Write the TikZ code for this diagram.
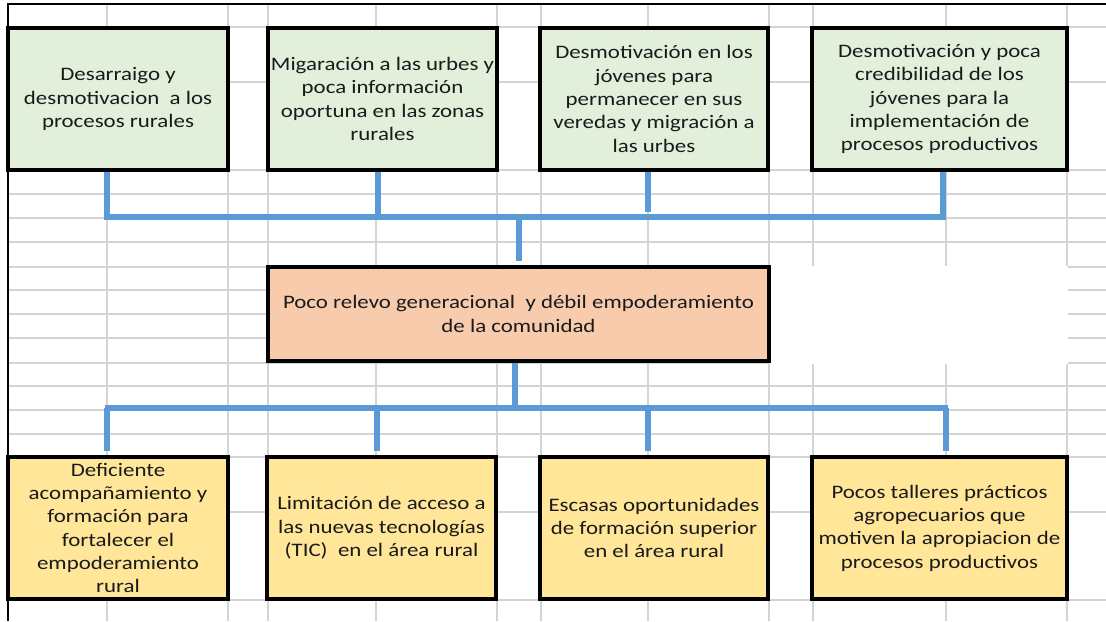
\documentclass[tikz,border=0pt]{standalone}
\usepackage{fontspec}
\setmainfont[FakeStretch=1.2]{Carlito}
\definecolor{gridgray}{HTML}{D4D4D4}
\definecolor{connblue}{HTML}{5B9BD5}
\definecolor{greenfill}{HTML}{E2EFDA}
\definecolor{orangefill}{HTML}{F8CBAD}
\definecolor{yellowfill}{HTML}{FFE699}
\definecolor{txt}{HTML}{1A1A1A}
\begin{document}
\begin{tikzpicture}[x=0.75pt,y=-0.75pt,
  gridline/.style={draw=gridgray,line width=1.1pt},
  box/.style={draw=black,line width=2.3pt,inner sep=0pt,align=center,text=txt,
    font=\fontsize{14.3}{17.5}\selectfont},
  topbox/.style={box,fill=greenfill,minimum height=106.5pt},
  midbox/.style={box,fill=orangefill,minimum height=70.5pt},
  botbox/.style={box,fill=yellowfill,minimum height=106.5pt},
  conn/.style={draw=connblue,line width=4.5pt}]
\useasboundingbox (0,0) rectangle (1106,621);
\fill[white] (0,0) rectangle (1106,621);
% spreadsheet grid
\foreach \x in {107,228,268,376,497,541,648,769,813,946,1067}
  \draw[gridline] (\x,3) -- (\x,621);
\foreach \y in {27,82,170,194,218,242,267,290,314,338,363,386,410,434,457,512,600}
  \draw[gridline] (8,\y) -- (1106,\y);
\fill[white] (770,266.2) rectangle (1067.7,363.8);
\draw[black,line width=1.5pt] (1106,3.7) -- (8,3.7);
\draw[black,line width=2pt] (8,3) -- (8,621);
% top boxes
\node[topbox,minimum width=165pt] (t1) at (118,99)
  {Desarraigo y\\desmotivacion\ \ a los\\procesos rurales};
\node[topbox,minimum width=171.75pt] (t2) at (382.5,99)
  {Migaración a las urbes y\\poca información\\oportuna en las zonas\\rurales};
\node[topbox,minimum width=171pt] (t3) at (654,99)
  {Desmotivación en los\\jóvenes para\\permanecer en sus\\veredas y migración a\\las urbes};
\node[topbox,minimum width=191.25pt] (t4) at (939.5,99)
  {Desmotivación y poca\\credibilidad de los\\jóvenes para la\\implementación de\\procesos productivos};
% central box
\node[midbox,minimum width=375.75pt] (c) at (518.5,314)
  {Poco relevo generacional\ \ y débil empoderamiento\\de la comunidad};
% bottom boxes
\node[botbox,minimum width=165pt] (b1) at (118,528)
  {Deficiente\\acompañamiento y\\formación para\\fortalecer el\\empoderamiento\\rural};
\node[botbox,minimum width=171.75pt] (b2) at (381.5,528)
  {Limitación de acceso a\\las nuevas tecnologías\\(TIC)\ \ en el área rural};
\node[botbox,minimum width=171pt] (b3) at (654,528)
  {Escasas oportunidades\\de formación superior\\en el área rural};
\node[botbox,minimum width=191.25pt] (b4) at (939.5,528)
  {Pocos talleres prácticos\\agropecuarios que\\motiven la apropiacion de\\procesos productivos};
% top connectors
\coordinate (j1) at (107,217);
\coordinate (j2) at (378,217);
\coordinate (j3) at (648,217);
\coordinate (j4) at (943,217);
\coordinate (jc) at (519,217);
\draw[conn] (t1.south -| j1) -- (j1) -- ([xshift=2pt]j4);
\draw[conn] (t2.south -| j2) -- (j2);
\draw[conn,shorten >=3.5pt] (t3.south -| j3) -- (j3);
\draw[conn] (t4.south -| j4) -- (j4);
\draw[conn,shorten >=3pt] (jc) -- (c.north -| jc);
% bottom connectors
\coordinate (k0) at (515,408);
\coordinate (k1) at (107,408);
\coordinate (k2) at (377,408);
\coordinate (k3) at (648,408);
\coordinate (k4) at (946,408);
\draw[conn] (c.south -| k0) -- (k0);
\draw[conn] ([xshift=-1.7pt]k1) -- ([xshift=1.7pt]k4);
\foreach \k/\b in {k1/b1,k2/b2,k3/b3,k4/b4}
  \draw[conn,shorten >=3pt] (\k) -- (\b.north -| \k);
\end{tikzpicture}
\end{document}
